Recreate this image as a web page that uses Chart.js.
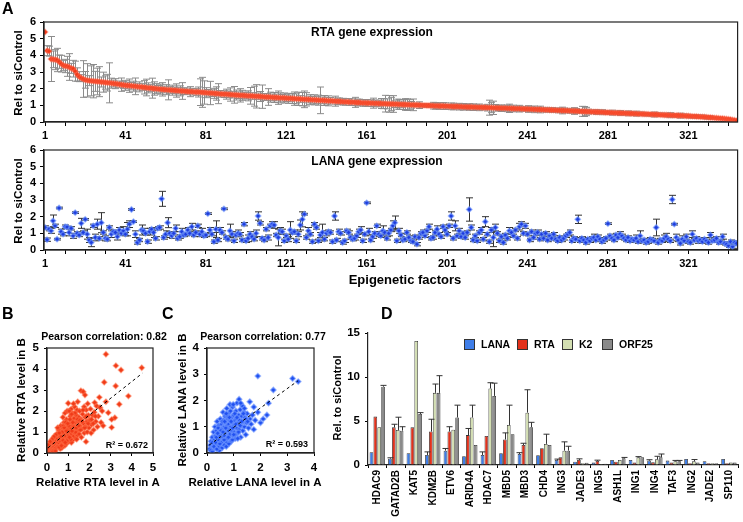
<!DOCTYPE html>
<html>
<head>
<meta charset="utf-8">
<script src="https://cdn.jsdelivr.net/npm/chart.js@4.4.0/dist/chart.umd.min.js"></script>
<style>
  body { margin: 0; background: #fff; }
  #wrap { position: relative; width: 743px; height: 522px; }
  #wrap canvas { position: absolute; left: 0; top: 0; }
</style>
</head>
<body>
<div id="wrap">
  <canvas id="cRta" width="743" height="522"></canvas>
  <canvas id="cLana" width="743" height="522"></canvas>
  <canvas id="cB" width="743" height="522"></canvas>
  <canvas id="cC" width="743" height="522"></canvas>
  <canvas id="cD" width="743" height="522"></canvas>
</div>
<script>
// ---- Panel A: RTA expression per factor (sorted), with SD ----
const rtaVals = [
  5.40,4.28,4.25,3.78,3.76,3.74,3.72,3.62,3.50,3.40,
  3.36,3.34,3.30,3.22,3.20,3.05,2.85,2.72,2.64,2.58,
  2.53,2.50,2.48,2.47,2.45,2.44,2.43,2.42,2.40,2.39,
  2.37,2.36,2.35,2.33,2.31,2.30,2.28,2.26,2.24,2.22,
  2.20,2.19,2.18,2.17,2.15,2.14,2.12,2.11,2.10,2.08,
  2.07,2.05,2.04,2.03,2.01,2.00,1.99,1.97,1.96,1.95,
  1.94,1.93,1.92,1.91,1.90,1.89,1.88,1.87,1.86,1.85,
  1.84,1.83,1.82,1.82,1.81,1.80,1.80,1.79,1.78,1.77,
  1.76,1.75,1.74,1.73,1.72,1.71,1.70,1.69,1.68,1.67,
  1.67,1.66,1.65,1.64,1.63,1.62,1.61,1.60,1.60,1.59,
  1.58,1.57,1.57,1.56,1.55,1.54,1.54,1.53,1.52,1.51,
  1.50,1.50,1.49,1.48,1.47,1.47,1.46,1.45,1.45,1.44,
  1.43,1.42,1.42,1.41,1.40,1.39,1.39,1.38,1.37,1.36,
  1.36,1.35,1.34,1.33,1.33,1.32,1.31,1.30,1.30,1.29,
  1.28,1.27,1.27,1.26,1.25,1.24,1.24,1.23,1.22,1.21,
  1.21,1.20,1.19,1.19,1.18,1.17,1.17,1.16,1.15,1.15,
  1.14,1.14,1.13,1.13,1.12,1.12,1.11,1.11,1.10,1.10,
  1.09,1.09,1.08,1.08,1.07,1.07,1.06,1.06,1.05,1.05,
  1.04,1.04,1.03,1.03,1.02,1.02,1.01,1.01,1.00,1.00,
  0.99,0.99,0.98,0.98,0.97,0.97,0.96,0.96,0.96,0.95,
  0.95,0.94,0.94,0.93,0.93,0.93,0.92,0.92,0.91,0.91,
  0.90,0.90,0.90,0.89,0.89,0.88,0.88,0.88,0.87,0.87,
  0.86,0.86,0.86,0.85,0.85,0.84,0.84,0.83,0.83,0.83,
  0.82,0.82,0.81,0.81,0.80,0.80,0.80,0.79,0.79,0.78,
  0.78,0.77,0.77,0.76,0.76,0.75,0.75,0.74,0.74,0.73,
  0.73,0.72,0.72,0.71,0.71,0.70,0.70,0.69,0.69,0.68,
  0.68,0.67,0.67,0.66,0.66,0.65,0.64,0.64,0.63,0.63,
  0.62,0.62,0.61,0.61,0.60,0.60,0.59,0.59,0.58,0.57,
  0.57,0.56,0.56,0.55,0.55,0.54,0.54,0.53,0.53,0.52,
  0.52,0.51,0.51,0.50,0.50,0.49,0.49,0.48,0.48,0.47,
  0.47,0.46,0.46,0.45,0.45,0.44,0.43,0.43,0.42,0.42,
  0.41,0.41,0.40,0.40,0.39,0.39,0.38,0.38,0.37,0.36,
  0.36,0.35,0.34,0.34,0.33,0.32,0.31,0.31,0.30,0.29,
  0.28,0.27,0.26,0.25,0.24,0.23,0.22,0.21,0.20,0.18,
  0.17,0.15,0.13,0.11,0.08
];
const rtaErr = [
  0,0.3,0.3,1.35,0.5,0.6,0.7,0.4,0.5,0.3,
  0.4,0.6,0.8,0.3,0.5,0.6,0.4,0.3,0.2,1.1,
  0.5,1.0,0.3,0.9,1.0,0.6,0.8,0.9,0.3,0.6,
  0.4,0.5,1.2,0.3,0.2,0.3,0.1,0.2,0.4,0.2,
  0.3,0.2,0.4,0.2,0.3,0.5,0.2,0.3,0.2,0.4,
  0.5,0.3,0.2,0.6,0.4,0.3,0.2,0.3,0.4,0.2,
  0.3,0.6,0.2,0.3,0.2,0.4,0.2,0.3,0.5,0.2,
  0.2,0.1,0.3,0.2,0.1,0.2,0.3,0.8,0.9,0.7,
  0.3,0.2,0.7,0.2,0.3,0.4,0.6,0.2,0.1,0.2,
  0.3,0.2,0.4,0.2,0.5,0.3,0.2,0.4,0.3,0.2,
  0.2,0.3,0.5,0.2,0.6,0.7,0.2,0.3,0.7,0.2,
  0.2,0.5,0.3,0.2,0.3,0.2,0.4,0.3,0.2,0.3,
  0.2,0.3,0.2,0.3,0.4,0.3,0.4,0.2,0.4,0.5,
  0.4,0.2,0.3,0.2,0.3,0.2,0.3,0.8,0.2,0.3,
  0.2,0.3,0.2,0.1,0.3,0.2,0.2,0.1,0.2,0.2,
  0.1,0.2,0.2,0.1,0.3,0.2,0.2,0.1,0.2,0.2,
  0.2,0.1,0.2,0.3,0.2,0.1,0.2,0.3,0.3,0.5,
  0.3,0.5,0.4,0.5,0.2,0.3,0.3,0.2,0.3,0.35,
  0.35,0.3,0.2,0.35,0.1,0.1,0.2,0.1,0.1,0.1,
  0.1,0.1,0.1,0.2,0.2,0.15,0.2,0.1,0.2,0.2,
  0.1,0.1,0.2,0.2,0.1,0.15,0.2,0.15,0.2,0.1,
  0.15,0.2,0.1,0.2,0.15,0.1,0.2,0.1,0.15,0.1,
  0.2,0.45,0.3,0.4,0.2,0.1,0.15,0.2,0.1,0.15,
  0.2,0.25,0.15,0.2,0.1,0.15,0.2,0.1,0.15,0.1,
  0.2,0.15,0.1,0.2,0.1,0.15,0.2,0.1,0.1,0.15,
  0.1,0.1,0.15,0.1,0.1,0.15,0.1,0.2,0.15,0.1,
  0.1,0.15,0.1,0.2,0.15,0.1,0.1,0.3,0.3,0.25,
  0.15,0.1,0.1,0.1,0.15,0.1,0.1,0.15,0.1,0.1,
  0.1,0.1,0.15,0.1,0.1,0.1,0.15,0.1,0.1,0.1,
  0.15,0.1,0.1,0.1,0.15,0.1,0.1,0.1,0.1,0.1,
  0.1,0.1,0.1,0.15,0.1,0.1,0.1,0.1,0.1,0.1,
  0.1,0.15,0.1,0.1,0.1,0.1,0.15,0.1,0.1,0.1,
  0.1,0.1,0.1,0.1,0.1,0.1,0.1,0.1,0.1,0.1,
  0.1,0.1,0.05,0.05,0.05,0.05,0.05,0.05,0.05,0.05,
  0.05,0.05,0.05,0.05,0.05
];

// ---- Panel A: LANA expression per factor (same order) ----
const lanaVals = [
  1.35,0.62,1.25,1.15,1.75,1.45,0.65,2.52,1.10,0.95,
  1.40,1.38,1.05,1.30,0.85,2.24,1.00,0.90,1.60,1.05,
  1.84,0.95,0.60,0.45,1.45,0.75,1.55,0.70,1.64,1.05,
  0.70,0.65,1.35,0.95,1.10,1.05,0.80,1.20,1.00,1.15,
  0.95,1.25,1.55,2.43,1.70,0.95,0.45,0.60,1.20,1.15,
  1.00,0.50,1.10,1.25,1.05,0.70,1.30,1.35,3.07,0.75,
  0.95,1.64,1.00,0.85,1.00,1.30,0.70,0.80,1.10,0.90,
  0.95,1.20,1.00,1.40,0.90,1.05,1.45,0.95,1.10,0.85,
  0.90,2.18,1.20,0.95,0.50,1.25,0.60,1.20,1.05,2.47,
  0.75,0.65,1.15,0.95,0.55,0.90,1.00,0.95,0.60,1.55,
  0.55,0.70,0.95,0.80,0.65,1.00,2.04,1.60,0.70,0.60,
  1.25,0.75,1.45,1.55,1.50,0.90,0.75,1.15,1.10,0.55,
  0.85,0.65,1.20,1.05,1.10,0.55,0.95,1.50,1.84,2.15,
  0.75,1.15,0.95,0.50,1.55,1.35,0.55,0.90,1.05,0.65,
  1.00,1.10,1.05,0.50,2.04,0.60,1.10,1.00,0.45,0.55,
  1.15,1.05,0.75,0.65,0.70,0.85,1.10,1.20,0.55,0.95,
  2.83,1.10,0.60,0.80,1.00,1.45,0.95,0.85,1.15,1.05,
  0.70,1.00,1.20,1.45,1.64,0.55,1.15,0.90,0.60,0.65,
  1.05,0.75,0.55,0.50,0.80,0.35,0.75,1.00,1.05,0.85,
  1.15,1.40,0.70,0.75,1.05,1.25,0.95,0.80,1.40,1.20,
  0.95,1.45,2.04,0.70,1.45,0.85,1.15,0.80,1.00,0.75,
  1.05,2.43,1.35,0.60,0.85,0.55,1.05,1.20,0.65,1.70,
  0.95,0.50,1.20,0.75,1.35,1.00,0.55,0.80,0.45,0.90,
  0.70,1.15,1.05,0.85,1.20,0.70,1.40,1.55,1.00,1.45,
  0.95,0.60,1.10,0.75,1.00,1.05,0.65,0.95,0.70,1.00,
  0.60,0.85,0.70,0.95,0.65,0.55,0.75,0.60,0.70,0.85,
  0.95,1.05,0.55,0.70,0.65,1.84,0.55,0.70,0.60,0.45,
  0.65,0.55,0.70,0.75,0.60,0.80,0.65,0.50,0.60,0.70,
  1.58,0.85,0.70,0.60,0.90,0.75,0.95,0.85,0.70,0.60,
  0.75,0.55,0.65,0.60,0.70,0.50,0.85,0.55,0.60,0.45,
  0.50,0.65,0.60,0.55,1.35,0.45,0.60,0.55,0.70,0.80,
  0.65,0.55,3.03,1.55,0.75,0.60,0.40,0.65,0.55,0.80,
  0.50,0.45,0.95,0.60,0.70,0.55,0.60,0.50,0.65,0.55,
  0.45,0.90,0.55,0.60,0.70,0.45,0.50,0.80,0.40,0.35,
  0.25,0.50,0.20,0.45,0.40
];
const lanaErr = [
  0.1,0.1,0.1,0.15,0.35,0.1,0.05,0.05,0.15,0.1,
  0.1,0.05,0.2,0.1,0.15,0.05,0.1,0.1,0.3,0.1,
  0.05,0.3,0.15,0.25,0.1,0.2,0.3,0.1,0.6,0.1,
  0.15,0.1,0.1,0.2,0.1,0.1,0.2,0.15,0.1,0.25,
  0.1,0.4,0.2,0.05,0.05,0.2,0.1,0.1,0.3,0.15,
  0.1,0.1,0.2,0.1,0.3,0.1,0.1,0.1,0.45,0.1,
  0.2,0.3,0.1,0.15,0.1,0.2,0.1,0.1,0.2,0.1,
  0.1,0.15,0.1,0.2,0.1,0.1,0.1,0.15,0.2,0.1,
  0.1,0.05,0.15,0.1,0.1,0.5,0.1,0.15,0.1,0.05,
  0.1,0.1,0.4,0.15,0.1,0.1,0.2,0.1,0.1,0.1,
  0.1,0.2,0.15,0.1,0.1,0.2,0.25,0.1,0.1,0.1,
  0.1,0.15,0.1,0.15,0.2,0.1,0.5,0.2,0.15,0.1,
  0.1,0.15,0.5,0.1,0.1,0.1,0.15,0.3,0.45,0.05,
  0.1,0.2,0.1,0.1,0.1,0.1,0.1,0.15,0.5,0.1,
  0.15,0.1,0.1,0.1,0.25,0.1,0.15,0.1,0.1,0.1,
  0.1,0.1,0.1,0.1,0.1,0.1,0.15,0.2,0.1,0.1,
  0.05,0.2,0.1,0.1,0.1,0.1,0.15,0.1,0.3,0.1,
  0.1,0.15,0.1,0.3,0.4,0.1,0.15,0.1,0.1,0.1,
  0.1,0.1,0.1,0.1,0.1,0.1,0.1,0.1,0.15,0.1,
  0.1,0.15,0.1,0.1,0.1,0.2,0.1,0.1,0.1,0.1,
  0.1,0.1,0.25,0.1,0.3,0.1,0.15,0.1,0.1,0.1,
  0.1,0.7,0.15,0.1,0.1,0.1,0.1,0.15,0.1,0.3,
  0.1,0.1,0.15,0.55,0.2,0.1,0.1,0.1,0.1,0.1,
  0.1,0.2,0.1,0.1,0.1,0.1,0.2,0.15,0.1,0.15,
  0.1,0.1,0.1,0.1,0.1,0.15,0.1,0.1,0.1,0.1,
  0.1,0.1,0.1,0.1,0.1,0.1,0.1,0.1,0.1,0.1,
  0.1,0.15,0.1,0.1,0.1,0.25,0.1,0.1,0.1,0.1,
  0.1,0.1,0.1,0.2,0.1,0.1,0.1,0.1,0.1,0.1,
  0.05,0.1,0.1,0.1,0.1,0.1,0.15,0.1,0.1,0.1,
  0.1,0.1,0.1,0.1,0.2,0.1,0.3,0.1,0.1,0.1,
  0.1,0.1,0.1,0.1,0.5,0.1,0.1,0.1,0.2,0.2,
  0.1,0.1,0.25,0.05,0.2,0.1,0.1,0.2,0.1,0.15,
  0.1,0.1,0.2,0.1,0.1,0.15,0.1,0.1,0.1,0.1,
  0.1,0.15,0.1,0.1,0.1,0.1,0.1,0.15,0.1,0.1,
  0.1,0.1,0.1,0.1,0.1
];
const factorTickLabels = [1, 41, 81, 121, 161, 201, 241, 281, 321];

// ---- Panel B: RTA replicate A vs replicate B ----
const rtaRepPairs = [
  [0.03,0.05],[0.06,0.12],[0.1,0.02],[0.1,0.2],[0.14,0.1],[0.16,0.28],[0.2,0.05],[0.2,0.18],[0.22,0.35],[0.25,0.12],
  [0.28,0.25],[0.3,0.42],[0.32,0.15],[0.34,0.3],[0.36,0.55],[0.38,0.2],[0.4,0.38],[0.42,0.6],[0.44,0.25],[0.46,0.45],
  [0.48,0.7],[0.5,0.32],[0.05,0.25],[0.12,0.38],[0.18,0.45],[0.26,0.5],[0.3,0.08],[0.4,0.1],[0.08,0.4],[0.24,0.62],
  [0.52,0.5],[0.54,0.85],[0.56,0.35],[0.58,0.62],[0.6,1.0],[0.6,0.45],[0.62,0.75],[0.64,0.3],[0.66,0.55],[0.68,0.9],
  [0.7,1.2],[0.7,0.4],[0.72,0.65],[0.74,0.8],[0.76,1.05],[0.78,0.5],[0.8,1.45],[0.8,0.7],[0.82,0.9],[0.84,0.35],
  [0.86,1.1],[0.88,0.6],[0.9,0.8],[0.9,1.3],[0.92,1.6],[0.94,0.5],[0.96,0.95],[0.98,0.7],[1.0,1.15],[1.0,2.37],
  [0.65,1.3],[0.75,1.7],[0.85,1.9],[0.55,1.1],[0.95,2.0],[0.7,0.25],[0.9,0.45],[0.62,0.2],
  [1.02,0.55],[1.04,0.85],[1.06,1.4],[1.08,1.0],[1.1,1.75],[1.1,0.7],[1.12,1.2],[1.14,2.1],[1.16,0.9],[1.18,1.55],
  [1.2,0.6],[1.2,1.3],[1.22,1.9],[1.24,1.05],[1.26,0.8],[1.28,1.65],[1.3,2.2],[1.3,1.15],[1.32,0.95],[1.34,1.45],
  [1.36,0.7],[1.38,1.8],[1.4,1.25],[1.42,2.05],[1.44,0.85],[1.45,2.44],[1.46,1.5],[1.48,1.1],[1.5,1.7],[1.05,2.0],
  [1.15,0.5],[1.25,2.35],[1.35,1.0],[1.4,0.65],
  [1.52,0.9],[1.54,2.0],[1.56,1.3],[1.6,2.97],[1.6,1.6],[1.62,0.75],[1.65,1.15],[1.68,1.85],[1.71,2.92],[1.72,1.4],
  [1.75,2.2],[1.76,0.95],[1.79,2.76],[1.8,1.7],[1.82,1.25],[1.84,0.54],[1.85,2.05],[1.88,1.5],[1.9,1.0],[1.92,2.35],
  [1.95,1.8],[1.98,1.2],[2.0,1.55],
  [2.03,1.57],[2.05,2.1],[2.08,0.95],[2.1,1.35],[2.15,1.8],[2.2,1.1],[2.23,1.94],[2.25,2.4],[2.3,1.5],[2.34,2.24],
  [2.38,1.25],[2.42,1.75],[2.47,2.65],[2.5,2.17],[2.55,1.45],[2.6,2.0],
  [2.78,4.7],[3.25,4.16],[3.49,3.95],[4.47,4.06],[2.7,3.37],[3.24,3.19],[3.84,2.71],[3.41,2.32],[2.78,2.44],[3.2,1.68],
  [3.05,1.6],[3.05,1.22],[2.89,1.92],[2.65,1.3],
  [0.15,0.55],[0.28,0.7],[0.35,0.8],[0.45,0.9],[0.5,1.2],[0.58,0.28],[0.66,0.8],[0.72,1.0],[0.78,1.3],[0.82,1.2],
  [0.88,1.45],[0.92,1.05],[0.96,0.6],[1.02,1.3],[1.08,1.6],[1.12,0.65],[1.18,1.05],[1.22,1.45],[1.28,1.25],[1.32,1.9],
  [1.38,1.2],[1.44,1.6],[1.5,1.3],[1.55,1.55],[1.58,1.1],[1.66,1.5],[1.7,2.05],[1.78,1.2],[1.86,1.75],[1.94,1.4],
  [2.1,1.6],[2.18,1.4],[2.28,1.75],[0.58,0.95],[0.68,0.35],[0.76,0.6],[0.86,0.5],[0.98,1.4],[1.06,0.75],[1.16,1.85]
];
const rtaTrend = [[0.05, 0.25], [4.5, 3.8]];

// ---- Panel C: LANA replicate A vs replicate B ----
const lanaRepPairs = [
  [0.12,0.3],[0.15,0.45],[0.18,0.2],[0.2,0.6],[0.22,0.35],[0.25,0.15],[0.25,0.8],[0.28,0.5],[0.3,0.3],[0.3,1.0],
  [0.32,0.65],[0.34,0.2],[0.35,0.45],[0.36,0.85],[0.38,1.2],[0.4,0.55],[0.4,0.3],[0.42,0.75],[0.44,1.05],[0.45,0.4],
  [0.46,0.1],[0.48,0.9],[0.5,0.6],[0.5,1.3],[0.52,0.25],[0.54,0.75],[0.55,1.1],[0.56,0.45],[0.58,0.95],[0.6,1.55],
  [0.6,0.6],[0.62,0.35],[0.62,1.25],[0.64,0.8],[0.66,1.0],[0.68,0.5],[0.68,1.4],[0.7,0.7],[0.7,1.15],[0.72,0.9],
  [0.74,1.7],[0.74,0.4],[0.76,1.05],[0.78,0.65],[0.78,1.3],[0.8,0.85],[0.8,1.5],[0.82,1.1],[0.84,0.55],[0.85,0.95],
  [0.86,1.25],[0.88,0.75],[0.88,1.6],[0.9,1.0],[0.9,0.45],[0.92,1.35],[0.94,0.85],[0.95,1.15],[0.96,1.75],[0.98,0.65],
  [1.0,1.05],[1.0,1.45],[1.02,0.8],[1.04,1.25],[1.06,0.55],[1.08,1.6],[1.1,0.95],[1.1,1.3],[1.12,1.9],[1.14,0.75],
  [1.16,1.15],[1.18,1.45],[1.2,2.05],[1.2,0.9],[1.22,1.25],[1.24,1.65],[1.26,0.6],[1.28,1.05],[1.3,1.4],[1.32,1.8],
  [1.34,0.85],[1.36,1.2],[1.38,1.55],[1.4,1.0],[1.42,1.35],[1.45,0.7],[1.48,1.15],[1.5,1.5],[1.55,0.95],[1.6,1.3],
  [1.65,1.1],[1.7,1.45],[1.75,0.9],[1.8,1.25],[1.9,1.55],[2.0,1.15],[2.1,1.3],[2.24,1.45],
  [0.1,0.15],[0.15,0.1],[0.2,0.05],[0.2,0.4],[0.26,0.25],[0.33,0.4],[0.37,0.15],[0.43,0.5],[0.47,0.25],[0.53,0.4],
  [0.57,0.2],[0.65,0.3],[0.72,0.25],[0.82,0.35],[0.45,0.65],[0.55,0.9],[0.65,0.65],[0.75,0.55],[0.85,0.7],[0.95,0.5],
  [1.05,0.7],[1.15,0.55],
  [1.9,2.93],[2.48,2.4],[3.2,2.84],[3.41,2.72],[2.3,1.9],[1.6,1.95],[1.75,1.75],
  [0.35,0.6],[0.42,0.95],[0.48,0.35],[0.52,0.85],[0.58,1.2],[0.64,0.5],[0.7,0.95],[0.76,1.4],[0.8,0.6],[0.84,1.35],
  [0.9,1.2],[0.96,0.95],[1.0,0.7],[1.04,1.5],[1.08,1.1],[1.12,1.35],[1.18,0.8],[1.24,1.05],[1.3,1.2],[1.36,1.5],
  [1.4,1.7],[1.46,1.3],[1.52,1.2],[0.6,0.8],[0.66,1.2],[0.72,1.5],[0.86,1.85],[0.98,1.85],[1.26,1.9],[0.4,0.75]
];
const lanaTrend = [[0.08, 0.3], [3.4, 2.75]];

// ---- Panel D: selected factors, four viral genes ----
const geneFactors = ['HDAC9','GATAD2B','KAT5','KDM2B','ETV6','ARID4A','HDAC7','MBD5','MBD3','CHD4',
                     'ING3','JADE3','ING5','ASH1L','ING1','ING4','TAF3','ING2','JADE2','SP110'];
const dLana  = [1.45,0.72,1.33,1.14,1.63,1.0,1.14,1.33,1.25,1.1,0.57,0.38,0.27,0.57,0.57,0.5,0.5,0.68,0.42,0.68];
const dLanaE = [0,0.1,0,0.35,0.25,0,0.35,0,0.15,0,0.1,0,0,0,0,0.1,0,0,0,0];
const dRta   = [5.5,4.28,4.28,3.8,3.8,3.4,3.3,2.9,2.27,1.9,0.87,0.57,0.45,0.38,0.27,0.3,0.27,0.2,0.2,0.2];
const dRtaE  = [0,0.35,0,1.4,0.55,0.75,0,0.75,0.2,0,0,0.13,0.1,0,0,0,0,0,0,0];
const dK2    = [4.3,3.98,14.1,8.2,4.0,5.4,8.7,4.55,5.95,2.4,1.63,0.2,0.1,0.57,0.87,0.64,0.42,0.42,0.2,0.27];
const dK2E   = [0,1.45,0,1.0,0,1.4,0.65,2.25,2.6,1.1,1.0,0,0,0,0.08,0.35,0.1,0.2,0,0];
const dOrf   = [8.9,3.9,5.8,8.2,5.4,2.27,7.85,3.5,4.3,2.27,1.63,0.26,0.15,0.76,0.87,0.87,0.42,0.27,0.2,0.27];
const dOrfE  = [0.15,0.45,0.15,1.95,1.4,0,1.45,0,0.55,0,0.5,0,0,0.1,0,0.38,0.1,0,0,0];

const FONT = "'Liberation Sans', Arial, Helvetica, sans-serif";
Chart.defaults.font.family = FONT;
Chart.defaults.font.weight = 'bold';
Chart.defaults.font.size = 11;
Chart.defaults.color = '#000';
Chart.defaults.animation = false;
Chart.defaults.responsive = false;
Chart.defaults.plugins.legend.display = false;
Chart.defaults.plugins.tooltip.enabled = false;

// error bars drawn from the dataset's errs array, through the y scale
function drawErrs(chart) {
  const ctx = chart.ctx, ys = chart.scales.y, a = chart.chartArea;
  ctx.save();
  ctx.beginPath();
  ctx.rect(a.left, a.top - 1, a.width, a.height + 1);
  ctx.clip();
  chart.data.datasets.forEach((ds, di) => {
    if (!ds.errs) return;
    const meta = chart.getDatasetMeta(di);
    ctx.strokeStyle = ds.errColor || '#333';
    ctx.lineWidth = 1;
    meta.data.forEach((el, i) => {
      const e = ds.errs[i];
      if (!e) return;
      const v = meta.controller.getParsed(i).y;
      const x = Math.round(el.x) + 0.5;
      const yt = ys.getPixelForValue(v + e);
      const yb = ds.upOnly ? el.y : ys.getPixelForValue(v - e);
      const cw = ds.capW || 3;
      ctx.beginPath();
      ctx.moveTo(x, yt); ctx.lineTo(x, yb);
      ctx.moveTo(x - cw, yt); ctx.lineTo(x + cw, yt);
      if (!ds.upOnly) { ctx.moveTo(x - cw, yb); ctx.lineTo(x + cw, yb); }
      ctx.stroke();
    });
  });
  ctx.restore();
}
const errBars = {
  id: 'errBars',
  defaults: { behind: false },
  beforeDatasetsDraw(chart, args, o) { if (o.behind) drawErrs(chart); },
  afterDatasetsDraw(chart, args, o) { if (!o.behind) drawErrs(chart); }
};
const frame = {
  id: 'frame',
  defaults: { on: false },
  afterDraw(chart, args, o) {
    if (!o.on) return;
    const a = chart.chartArea, ctx = chart.ctx;
    ctx.save();
    ctx.strokeStyle = '#222';
    ctx.lineWidth = 1.2;
    ctx.strokeRect(a.left, a.top, a.width, a.height);
    ctx.restore();
  }
};
const texts = {
  id: 'texts',
  defaults: { items: [] },
  afterDraw(chart, args, o) {
    const ctx = chart.ctx;
    o.items.forEach(t => {
      ctx.save();
      ctx.font = 'bold ' + t.size + 'px ' + FONT;
      ctx.fillStyle = '#000';
      ctx.textAlign = t.align || 'center';
      ctx.textBaseline = 'middle';
      ctx.translate(t.x, t.y);
      if (t.rot) ctx.rotate(t.rot * Math.PI / 180);
      ctx.fillText(t.t, 0, 0);
      ctx.restore();
    });
  }
};
Chart.register(errBars, frame, texts);

function axisStyle(extra) {
  return Object.assign({
    grid: { drawOnChartArea: false, tickLength: 4, color: '#000' },
    border: { color: '#222', width: 1.2 }
  }, extra);
}

// strip chart for one gene across all factors
function stripChart(id, vals, errs, errColor, color, glow, top, title) {
  const n = vals.length;
  const minorTicks = [];
  for (let v = 1; v <= n; v += 10) minorTicks.push(v);
  new Chart(document.getElementById(id), {
    type: 'scatter',
    data: {
      datasets: [{
        data: vals.map((v, i) => ({ x: i + 1, y: v })),
        errs: errs, errColor: errColor, capW: 3.5,
        pointStyle: 'rectRot', pointRadius: 2.7,
        backgroundColor: color, borderColor: glow, borderWidth: 1.4
      }]
    },
    options: {
      layout: { padding: { left: 14, right: 4, top: top, bottom: 522 - top - 100 - 20 } },
      plugins: { frame: { on: true }, errBars: { behind: true }, texts: { items: title } },
      scales: {
        x: axisStyle({
          type: 'linear', min: 0.5, max: n + 0.5,
          afterFit: s => { s.height = 20; },
          afterBuildTicks: s => { s.ticks = minorTicks.map(v => ({ value: v })); },
          ticks: { autoSkip: false, maxRotation: 0, padding: 3,
                   callback: v => factorTickLabels.includes(v) ? String(v) : '' }
        }),
        y: axisStyle({
          min: 0, max: 6,
          afterFit: s => { s.width = 30; },
          ticks: { stepSize: 1, padding: 4 }
        })
      }
    }
  });
}

stripChart('cRta', rtaVals, rtaErr, '#8c8c8c', '#f03a1a', 'rgba(255,100,70,0.45)', 22, [
  { t: 'A', x: 2, y: 10, size: 16, align: 'left' },
  { t: 'RTA gene expression', x: 372, y: 33, size: 12 },
  { t: 'Rel to siControl', x: 19, y: 73, size: 11.5, rot: -90 }
]);
stripChart('cLana', lanaVals, lanaErr, '#333', '#1e3cdc', 'rgba(110,150,255,0.6)', 150, [
  { t: 'LANA gene expression', x: 377, y: 162, size: 12 },
  { t: 'Rel to siControl', x: 19, y: 201, size: 11.5, rot: -90 },
  { t: 'Epigenetic factors', x: 405, y: 280, size: 13 }
]);

// replicate scatter with dashed trend line
function repChart(id, pairs, trend, maxV, left, color, glow, title) {
  const w = left === 47 ? 106 : 107;
  new Chart(document.getElementById(id), {
    type: 'scatter',
    data: {
      datasets: [
        { type: 'line', data: trend.map(p => ({ x: p[0], y: p[1] })), borderColor: '#000',
          borderWidth: 1, borderDash: [3, 3], pointRadius: 0, fill: false },
        { data: pairs.map(p => ({ x: p[0], y: p[1] })), pointStyle: 'rectRot', pointRadius: 2.7,
          backgroundColor: color, borderColor: glow, borderWidth: 1.4 }
      ]
    },
    options: {
      layout: { padding: { left: left - 20, right: 743 - left - w, top: 348, bottom: 522 - 453 - 20 } },
      plugins: { frame: { on: true }, texts: { items: title } },
      scales: {
        x: axisStyle({
          type: 'linear', min: 0, max: maxV,
          afterFit: s => { s.height = 20; },
          grid: { drawOnChartArea: false, tickLength: 3, color: '#000' },
          ticks: { stepSize: 1, padding: 5, font: { size: 11.5 } }
        }),
        y: axisStyle({
          min: 0, max: maxV,
          afterFit: s => { s.width = 20; },
          grid: { drawOnChartArea: false, tickLength: 3, color: '#000' },
          ticks: { stepSize: 1, padding: 5, font: { size: 11.5 } }
        })
      }
    }
  });
}

repChart('cB', rtaRepPairs, rtaTrend, 5, 47, '#f03a18', 'rgba(255,110,70,0.45)', [
  { t: 'B', x: 2, y: 315, size: 16, align: 'left' },
  { t: 'Pearson correlation: 0.82', x: 104, y: 337, size: 10.5 },
  { t: 'R\u00b2 = 0.672', x: 148, y: 446, size: 9, align: 'right' },
  { t: 'Relative RTA level in B', x: 22, y: 400, size: 11.5, rot: -90 },
  { t: 'Relative RTA level in A', x: 98, y: 483, size: 11.5 }
]);
repChart('cC', lanaRepPairs, lanaTrend, 4, 207, '#2050f0', 'rgba(110,150,255,0.6)', [
  { t: 'C', x: 162, y: 315, size: 16, align: 'left' },
  { t: 'Pearson correlation: 0.77', x: 263, y: 337, size: 10.5 },
  { t: 'R\u00b2 = 0.593', x: 308, y: 445, size: 9, align: 'right' },
  { t: 'Relative LANA level in B', x: 183, y: 400, size: 11.5, rot: -90 },
  { t: 'Relative LANA level in A', x: 255, y: 483, size: 11.5 }
]);

// bar chart D with its legend
const geneNames = ['LANA', 'RTA', 'K2', 'ORF25'];
const geneColors = ['#3f7ee8', '#e3311b', '#d3dfb2', '#8a8a8a'];
const legendD = {
  id: 'legendD',
  afterDraw(chart) {
    const ctx = chart.ctx;
    const boxX = [464, 517, 562, 602];
    ctx.save();
    ctx.font = 'bold 10.5px ' + FONT;
    ctx.textBaseline = 'middle';
    geneNames.forEach((g, i) => {
      ctx.fillStyle = geneColors[i];
      ctx.fillRect(boxX[i], 339, 11, 11);
      ctx.strokeStyle = '#333';
      ctx.lineWidth = 1;
      ctx.strokeRect(boxX[i] + 0.5, 339.5, 10, 10);
      ctx.fillStyle = '#000';
      ctx.fillText(g, boxX[i] + 17, 345);
    });
    ctx.restore();
  }
};
const dSeries = [[dLana, dLanaE], [dRta, dRtaE], [dK2, dK2E], [dOrf, dOrfE]];
new Chart(document.getElementById('cD'), {
  type: 'bar',
  data: {
    labels: geneFactors,
    datasets: dSeries.map((s, i) => ({
      label: geneNames[i], data: s[0], errs: s[1], upOnly: true, errColor: '#333', capW: 3,
      backgroundColor: geneColors[i], borderColor: '#333', borderWidth: 0.8,
      categoryPercentage: 0.84, barPercentage: 0.95
    }))
  },
  plugins: [legendD],
  options: {
    layout: { padding: { left: 346, right: 3, top: 333, bottom: 2 } },
    plugins: { texts: { items: [
      { t: 'D', x: 381, y: 315, size: 16, align: 'left' },
      { t: 'Rel. to siControl', x: 338, y: 398, size: 11, rot: -90 }
    ] } },
    scales: {
      x: axisStyle({
        afterFit: s => { s.height = 55; },
        grid: { drawOnChartArea: false, tickLength: 3, color: '#000', offset: true },
        ticks: { autoSkip: false, minRotation: 90, maxRotation: 90, padding: 2, font: { size: 10 } }
      }),
      y: axisStyle({
        min: 0, max: 15,
        afterFit: s => { s.width = 22; },
        grid: { drawOnChartArea: false, tickLength: 3, color: '#000' },
        ticks: { stepSize: 5, padding: 5, font: { size: 11.5 } }
      })
    }
  }
});
</script>
</body>
</html>
